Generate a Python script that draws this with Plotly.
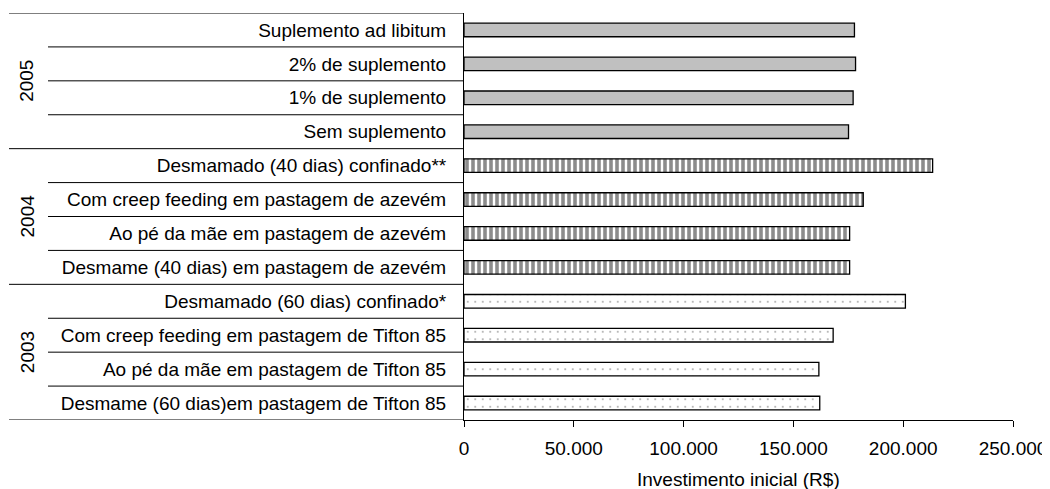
import plotly.graph_objects as go

# categories bottom -> top, grouped by year
cat_2003 = ["Desmame (60 dias)em pastagem de Tifton 85",
            "Ao pé da mãe em pastagem de Tifton 85",
            "Com creep feeding em pastagem de Tifton 85",
            "Desmamado (60 dias) confinado*"]
val_2003 = [162000, 161600, 168100, 201000]

cat_2004 = ["Desmame (40 dias) em pastagem de azevém",
            "Ao pé da mãe em pastagem de azevém",
            "Com creep feeding em pastagem de azevém",
            "Desmamado (40 dias) confinado**"]
val_2004 = [175600, 175600, 181800, 213400]

cat_2005 = ["Sem suplemento",
            "1% de suplemento",
            "2% de suplemento",
            "Suplemento ad libitum"]
val_2005 = [175100, 177200, 178300, 177800]

years = ["2003", "2004", "2005"]
x_ticks = [0, 50000, 100000, 150000, 200000, 250000]

FONT = "Liberation Sans, Arial, sans-serif"
FS = 19
# the page body adds an 8px margin, so the figure is 8px smaller on each side
OFF = 8
W, H = 1050 - OFF, 489 - OFF
L, R, T, B = 464 - OFF, 37, 13 - OFF, 69
plot_w = W - L - R
plot_h = H - T - B

fig = go.Figure()
line = dict(color="black", width=1.3)
fig.add_trace(go.Bar(y=cat_2003, x=val_2003, orientation="h", width=0.4,
                     marker=dict(color="white", line=line,
                                 pattern=dict(shape=".", size=7.5, solidity=0.05,
                                              fgcolor="#444", bgcolor="white"))))
fig.add_trace(go.Bar(y=cat_2004, x=val_2004, orientation="h", width=0.4,
                     marker=dict(color="white", line=line,
                                 pattern=dict(shape="|", size=6, solidity=0.6,
                                              fgcolor="#1a1a1a", bgcolor="white"))))
fig.add_trace(go.Bar(y=cat_2005, x=val_2005, orientation="h", width=0.4,
                     marker=dict(color="#c0c0c0", line=line)))

all_cats = cat_2003 + cat_2004 + cat_2005

# grouping lines on the left (Excel multi-level category axis look)
x_far = (9 - OFF - L) / plot_w
x_near = (48 - OFF - L) / plot_w
shapes = []
for i in range(len(all_cats) + 1):
    y = i - 0.5
    x0 = x_far if i % 4 == 0 else x_near
    shapes.append(dict(type="line", xref="paper", yref="y", x0=x0, x1=0,
                       y0=y, y1=y, line=dict(color="black", width=1)))

annotations = []
for k, yr in enumerate(years):
    annotations.append(dict(text=yr, xref="paper", yref="y",
                            x=(27 - OFF - L) / plot_w, y=4 * k + 1.5, showarrow=False,
                            xanchor="center", yanchor="middle",
                            textangle=-90, font=dict(size=FS, color="black")))
annotations.append(dict(text="Investimento inicial (R$)", xref="paper", yref="paper",
                        x=0.5, y=-(479 - 420) / plot_h, yanchor="middle",
                        showarrow=False, font=dict(size=FS, color="black")))

fig.update_layout(
    width=W, height=H,
    margin=dict(l=L, r=R, t=T, b=B, autoexpand=False),
    paper_bgcolor="white", plot_bgcolor="white",
    font=dict(family=FONT, size=FS, color="black"),
    separators=",.",
    showlegend=False,
    barmode="overlay",
    shapes=shapes,
    annotations=annotations,
)
fig.update_xaxes(range=[0, 250000], tickvals=x_ticks, tickformat=",d",
                 automargin=False,
                 showgrid=False, zeroline=False, showline=True, linecolor="black",
                 linewidth=1, ticks="outside", ticklen=6, tickcolor="black",
                 ticklabelstandoff=5)
fig.update_yaxes(categoryorder="array", categoryarray=all_cats,
                 range=[-0.5, len(all_cats) - 0.5], automargin=False,
                 showgrid=False, zeroline=False, showline=True, linecolor="black",
                 linewidth=1, ticks="", ticklabelstandoff=13)

fig.write_html("out.html")
